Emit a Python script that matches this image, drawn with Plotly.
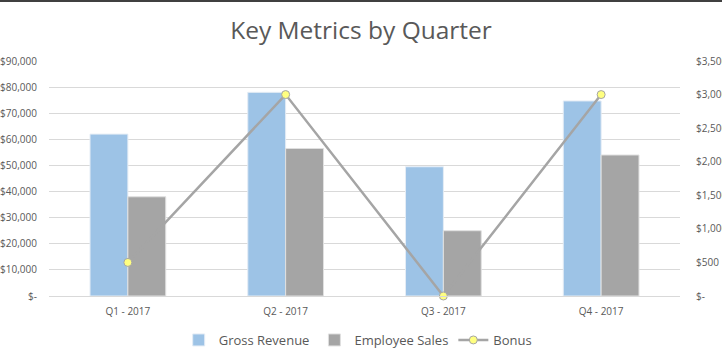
import plotly.graph_objects as go

quarters = ["Q1 - 2017", "Q2 - 2017", "Q3 - 2017", "Q4 - 2017"]
gross_revenue = [62000, 78000, 49500, 74700]
employee_sales = [38000, 56500, 25000, 54000]
bonus = [500, 3000, 0, 3000]

left_ticks = [0, 10000, 20000, 30000, 40000, 50000, 60000, 70000, 80000, 90000]
left_labels = ["$-", "$10,000", "$20,000", "$30,000", "$40,000", "$50,000",
               "$60,000", "$70,000", "$80,000", "$90,000"]
right_ticks = [0, 500, 1000, 1500, 2000, 2500, 3000, 3500]
right_labels = ["$-", "$500", "$1,000", "$1,500", "$2,000", "$2,500", "$3,000", "$3,500"]

txt = "#595959"
fig = go.Figure()
fig.add_trace(go.Bar(x=quarters, y=gross_revenue, name="Gross Revenue",
                     marker=dict(color="#9DC3E6", line=dict(color="#E4ECF5", width=1))))
fig.add_trace(go.Bar(x=quarters, y=employee_sales, name="Employee Sales",
                     marker=dict(color="#A5A5A5", line=dict(color="#E0E0E0", width=1))))
fig.add_trace(go.Scatter(x=quarters, y=bonus, name="Bonus", yaxis="y2",
                         mode="lines+markers", cliponaxis=False,
                         line=dict(color="#A5A5A5", width=2.5),
                         marker=dict(size=8, color="#FFFF80",
                                     line=dict(color="#A5A5A5", width=1))))

fig.update_layout(
    width=722, height=361,
    margin=dict(l=49, r=42, t=61, b=65),
    paper_bgcolor="white", plot_bgcolor="white",
    font=dict(family="Open Sans", color=txt, size=11),
    title=dict(text="Key Metrics by Quarter", x=0.5, xanchor="center",
               y=0.915, yanchor="middle",
               font=dict(family="Open Sans", size=24.5, color=txt, weight=400)),
    barmode="group", bargap=0.52, bargroupgap=0,
    xaxis=dict(showgrid=False, showline=True, linecolor="#D9D9D9", linewidth=1,
               ticks="", ticklabelstandoff=6, tickfont=dict(size=10, color=txt),
               automargin=False),
    yaxis=dict(range=[0, 90000], tickvals=left_ticks, ticktext=left_labels,
               showgrid=True, gridcolor="#D9D9D9", gridwidth=1, zeroline=False,
               ticks="", ticklabelstandoff=11, tickfont=dict(size=10, color=txt),
               automargin=False),
    yaxis2=dict(range=[0, 3500], tickvals=right_ticks, ticktext=right_labels,
                overlaying="y", side="right", showgrid=False, zeroline=False,
                ticks="", ticklabelstandoff=15, tickfont=dict(size=10, color=txt),
                automargin=False),
    legend=dict(orientation="h", x=0.49, xanchor="center",
                yref="container", y=21/361, yanchor="middle",
                font=dict(size=13, color=txt), traceorder="normal",
                itemwidth=30),
    shapes=[dict(type="line", xref="paper", yref="paper", x0=-0.2, x1=1.2,
                 y0=1.0 + 60/235, y1=1.0 + 60/235,
                 line=dict(color="#404040", width=2))],
)

fig.write_html("out.html", config={"displayModeBar": False},
               post_script="document.body.style.margin='0';")
